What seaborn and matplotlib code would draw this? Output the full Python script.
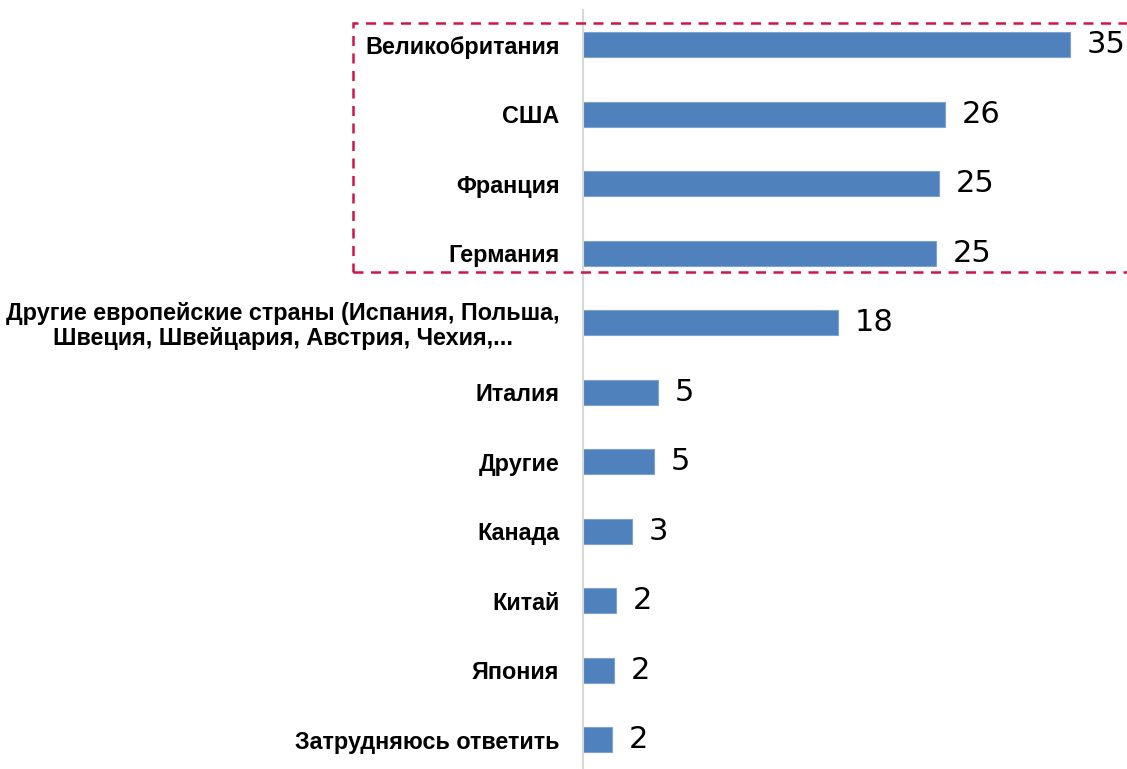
import matplotlib
matplotlib.use("Agg")
import matplotlib.pyplot as plt
import matplotlib.patches as mpatches
import pandas as pd
import seaborn as sns

# data (bar lengths estimated, labels as printed)
countries = [
    "Великобритания",
    "США",
    "Франция",
    "Германия",
    "Другие европейские страны (Испания, Польша,\nШвеция, Швейцария, Австрия, Чехия,...",
    "Италия",
    "Другие",
    "Канада",
    "Китай",
    "Япония",
    "Затрудняюсь ответить",
]
shares = [35.0, 26.0, 25.6, 25.4, 18.3, 5.4, 5.1, 3.5, 2.4, 2.2, 2.1]
shown = ["35", "26", "25", "25", "18", "5", "5", "3", "2", "2", "2"]

df = pd.DataFrame({"country": countries, "share": shares})

sns.set_style("white")
plt.rcParams["font.family"] = ["Liberation Sans", "DejaVu Sans"]

W, H = 1127, 769
fig = plt.figure(figsize=(W / 100, H / 100), dpi=100)
ax = fig.add_axes([583 / W, 0, (W - 583) / W, (H - 10) / H])

sns.barplot(data=df, x="share", y="country", orient="h", color="#4F81BD",
            saturation=1, width=0.36, edgecolor="#7FA3D1", linewidth=0.8, ax=ax)

ax.set_xlim(0, (W - 583) / 13.91)
ax.set_ylim(10.42, -0.5)

for i, (v, s) in enumerate(zip(shares, shown)):
    ax.text(v + 1.2, i, s, va="center", ha="left", fontsize=22,
            family=["DejaVu Sans"], color="black")

ax.set_xlabel("")
ax.set_ylabel("")
ax.set_xticks([])
ax.tick_params(axis="y", length=0, pad=17, labelcolor="black")
for lab in ax.get_yticklabels():
    lab.set_fontsize(16.8)
    lab.set_fontweight("bold")
    lab.set_multialignment("center")
    lab.set_linespacing(1.1)
for side in ["top", "right", "bottom"]:
    ax.spines[side].set_visible(False)
ax.spines["left"].set_color("#D9D9D9")
ax.spines["left"].set_linewidth(1.5)

# dashed frame around the top four countries
frame = mpatches.Rectangle((353 / W, 1 - 272 / H), (W + 20 - 353) / W, (272 - 23) / H,
                           transform=fig.transFigure, fill=False,
                           edgecolor="#D2144A", linestyle=(0, (4, 3)), linewidth=1.8,
                           clip_on=False)
fig.patches.append(frame)

fig.savefig("out.png", dpi=100)
